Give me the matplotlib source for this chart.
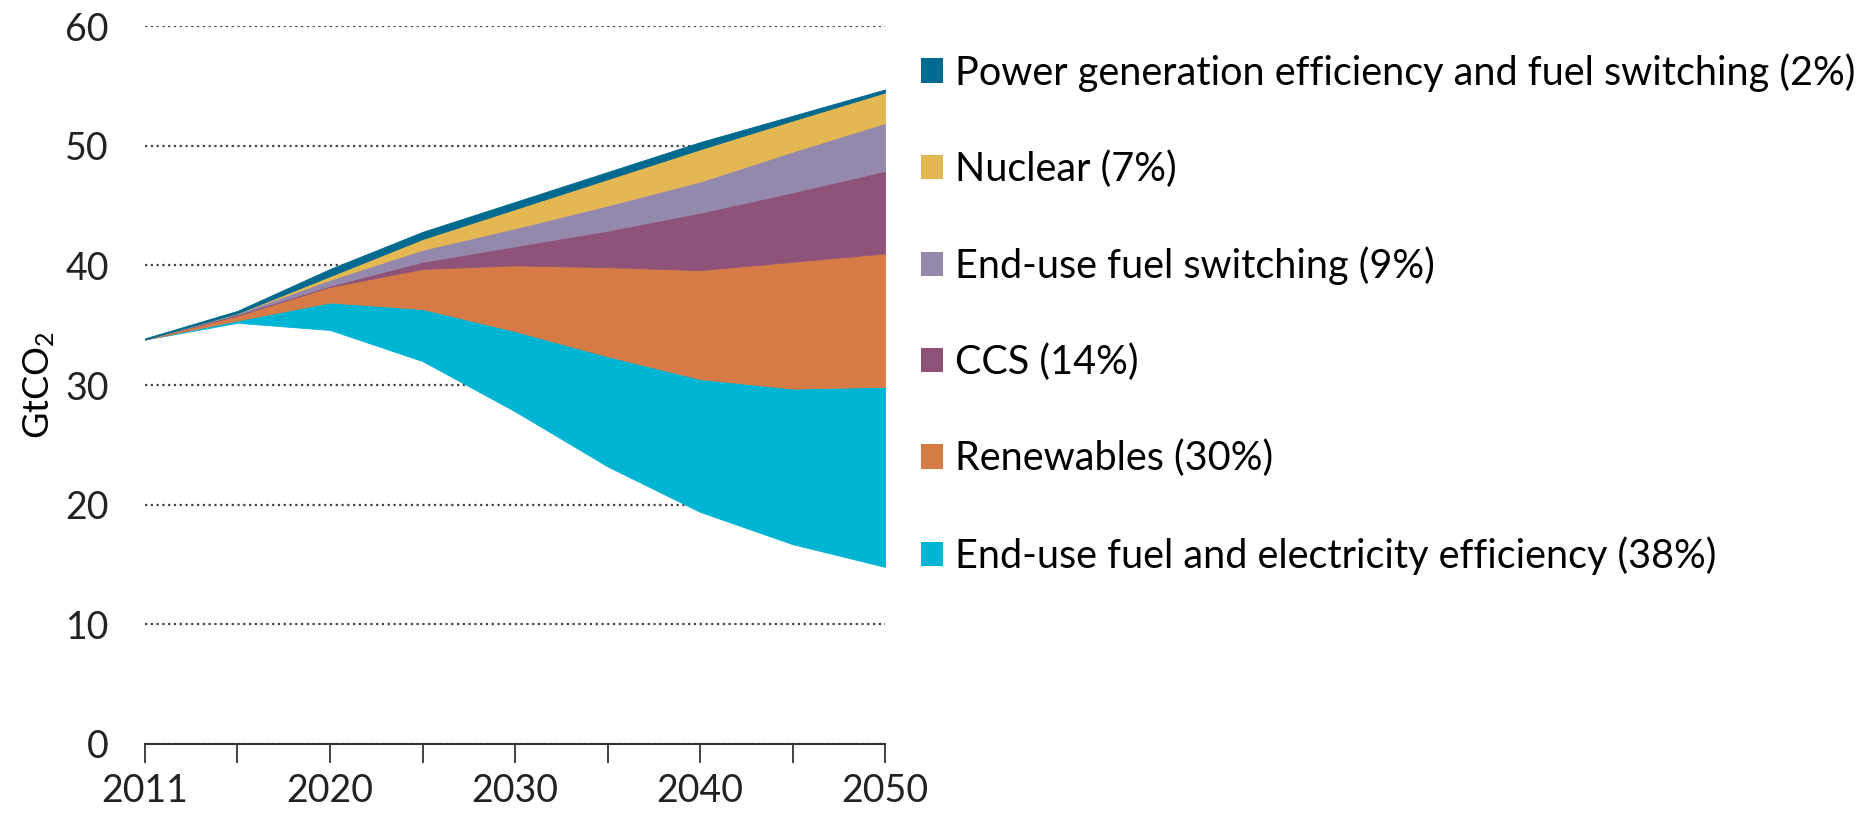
"""
Stacked-wedge chart: CO2 abatement by measure, 2011-2050 (GtCO2).
"""

import matplotlib

matplotlib.use("Agg")
import matplotlib.pyplot as plt
import numpy as np
from matplotlib.patches import Patch

years = ["2011", "2015", "2020", "2025", "2030", "2035", "2040", "2045", "2050"]
year_labels = ["2011", "", "2020", "", "2030", "", "2040", "", "2050"]

# remaining emissions (bottom of the wedges)
remaining = [33.8, 35.2, 34.6, 32.0, 27.8, 23.2, 19.4, 16.7, 14.8]

# abatement wedges, stacked from bottom to top
efficiency = [0.0, 0.2, 2.3, 4.35, 6.7, 9.2, 11.1, 13.0, 15.05]
renewables = [0.0, 0.4, 1.3, 3.35, 5.5, 7.45, 9.1, 10.6, 11.15]
ccs = [0.0, 0.1, 0.1, 0.6, 1.6, 3.05, 4.8, 5.8, 6.9]
fuel_switching = [0.0, 0.1, 0.5, 1.0, 1.5, 2.1, 2.6, 3.4, 4.0]
nuclear = [0.0, 0.0, 0.3, 0.9, 1.6, 2.2, 2.7, 2.6, 2.55]
power_gen = [0.1, 0.2, 0.6, 0.6, 0.6, 0.6, 0.6, 0.4, 0.25]

labels = [
    "End-use fuel and electricity efficiency (38%)",
    "Renewables (30%)",
    "CCS (14%)",
    "End-use fuel switching (9%)",
    "Nuclear (7%)",
    "Power generation efficiency and fuel switching (2%)",
]
colors = ["#00B4D3", "#D77B46", "#8F5379", "#9588AD", "#E3B752", "#00698F"]

plt.rcParams["font.family"] = ["Lato", "DejaVu Sans"]
plt.rcParams["mathtext.default"] = "regular"

fig = plt.figure(figsize=(18.66, 8.14), dpi=100)
ax = fig.add_axes([0.0777, 0.086, 0.3966, 0.882])

x = np.arange(len(years))
base = np.array(remaining, dtype=float)
handles = []
for vals, lab, col in zip(
    [efficiency, renewables, ccs, fuel_switching, nuclear, power_gen], labels, colors
):
    top = base + np.array(vals)
    ax.fill_between(x, base, top, color=col, linewidth=0.6, edgecolor=col, zorder=3)
    handles.append(Patch(facecolor=col, edgecolor="none", label=lab))
    base = top

ax.set_xlim(0, len(years) - 1)
ax.set_ylim(0, 60)
ax.set_yticks(range(0, 61, 10))
ax.set_xticks(x)
ax.set_xticklabels(year_labels)
ax.yaxis.grid(True, linestyle=(0, (1, 1.6)), color="#444444", linewidth=1.6, zorder=1)
ax.set_axisbelow(True)

for side in ["top", "right", "left"]:
    ax.spines[side].set_visible(False)
ax.spines["bottom"].set_color("#333333")
ax.spines["bottom"].set_linewidth(1.5)
ax.tick_params(axis="y", length=0, labelsize=27, pad=26, colors="#222222")
ax.tick_params(axis="x", length=14, width=1.3, color="#333333", labelsize=27,
               pad=7, colors="#222222")
ax.set_ylabel("GtCO$_2$", fontsize=26, labelpad=6)

ax.legend(
    handles=handles[::-1],
    loc="upper left",
    bbox_to_anchor=(0.4935, 0.935),
    bbox_transform=fig.transFigure,
    frameon=False,
    fontsize=28.5,
    handlelength=0.57,
    handleheight=0.57,
    handletextpad=0.3,
    labelspacing=1.48,
    borderaxespad=0,
    borderpad=0,
)

fig.savefig("out.png", dpi=100)
